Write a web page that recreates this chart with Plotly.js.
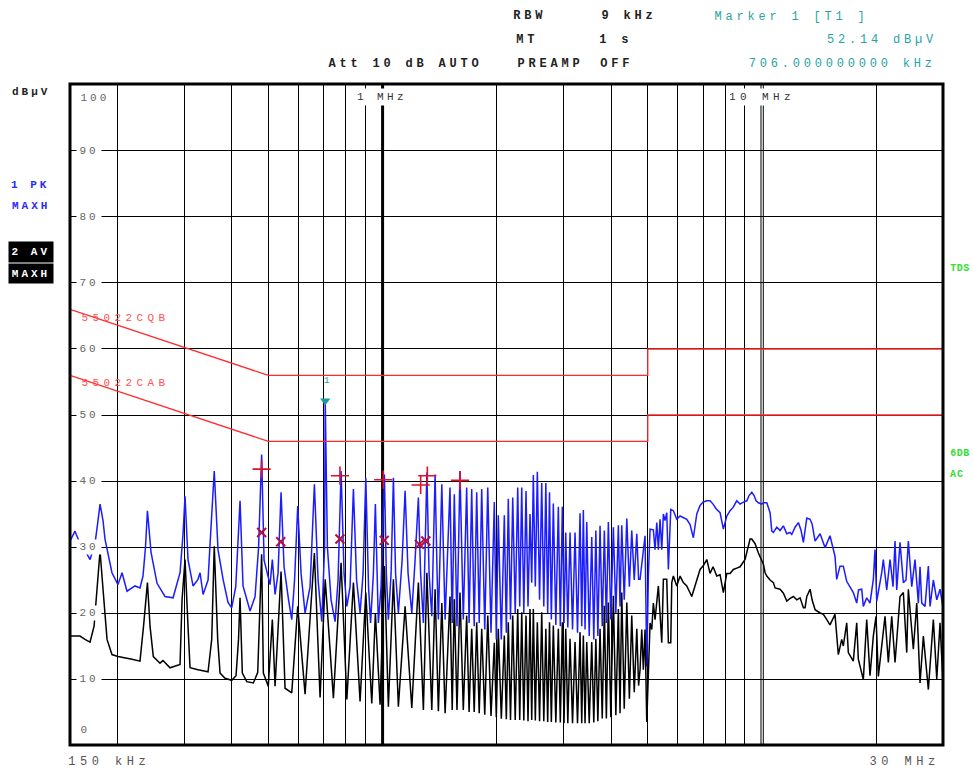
<!DOCTYPE html>
<html><head><meta charset="utf-8">
<script src="https://cdn.plot.ly/plotly-3.0.1.min.js"></script>
<style>body{margin:0;background:#fff}#chart{width:973px;height:769px}</style>
</head><body><div id="chart"></div>
<script>
// ---------- DATA (frequency in kHz, level in dBµV) ----------
const freqPK = [150,154.6,159.4,164.3,169.4,174.6,177.8,180,183.3,185.5,193.5,200.7,205.7,212,222.5,229.4,233.6,237.2,240,245.3,254.4,267,280.4,292.5,297.9,301.5,307,316.5,326.2,330.3,336.4,346.7,353,360,368.3,379.8,391.4,400.3,410.2,415.9,421,428.7,438.6,447.4,461.2,471.2,480,
487.1,505.1,512.2,520.7,530.2,540,549.9,565.2,576.2,586.1,597.5,609.7,624.7,644,661.1,676,691.4,703.3,706,715.4,731.5,749.5,763.2,777.3,791.6,805,821,837.7,854,872.3,888.4,903.1,918.2,929.7,945.7,957.2,974.7,990.9,1011,1023,1035.7,1053,1067.9,1082,1100.6,1125.7,1146.4,1167.4,1194,1218,1242.7,1259.5,1281,1308.3,1326,1348,1375.3,1392,1403,1432.5,1448.7,1461.5,1505.5,
1525.8,1545.4,1570.8,1599.6,1632,1665.8,1690.6,1717.5,1743.7,1770.5,1797.4,1825,1859,1893.3,1930.9,1970,1994.2,2018.2,2055.7,2093.4,2119.1,2144.6,2173.5,2203,2236.6,2270.8,2298.6,2326.7,2356.4,2388.1,2417.2,2446.8,2472.2,2496.5,2526.8,2557.9,2592.6,2627,2660,2693.3,2723.6,2754.1,2784.7,2818.7,2861.8,2905.7,2940.8,2976.9,3007.7,3039.1,3077.6,3119.3,3167,3215.4,3264.4,3314.5,3349,3381.8,3416.6,3452.4,3504.8,3558.6,3603.4,3648.4,3693.2,3742.4,3792.9,3841.6,3888.7,3936.3,3996,4057.3,4119.4,4182.6,4225.5,4269.4,4334.5,4402.5,4471.4,4536.7,4605.8,4678,4729,4771,4867.9,4918,4969.5,5018,5069.6,
5172.5,5225.7,5280.5,5332.2,5386.9,5443,5496.3,5552.8,5611,5666,5748.4,5840,5962,6082.3,6335,6463,6594,6732,6867.6,6994,7153,7297,7431,7568,7675,7754,7911,8077,8239,8391,8582,8755,8933,9119,9246,9400,9532,9648,9785,9988,10086,10296,10504,10613,10717,10941,11161,11388,11625,11860,11983,12225,12474,12679,12858,13126,13391,13554,13803,14229,14667,15110,15575,15739,16056,16382,16724,17061,17407,17771,17967,18318,18497,18883,19264,19655,19857,20065,20470,20683,20886,21322,21752,22152,22422,22657,23113,23582,23970,24310,24815,25316,25832,26097,26368,26901,27449,27731,28294,28885,29466,30000];
const valPK = [30.9,32.4,30.5,29.5,28.1,30.5,34,36.5,34,31.2,26.1,24.3,26.1,23.3,24.1,23.8,25.6,30,35.5,29.2,24.5,22.5,22.3,26.1,32,37.7,28.1,24.1,25.1,26.1,22.8,25,33,41.5,29.6,25.1,21.6,20.8,24,30,37,24.1,22,20.3,22.5,30,44,
28,24.3,28.1,22.8,26,38.3,27,22,19,25,36.2,26,20,24,39.5,25,18.7,30,52.14,30,22,18.7,25,41.5,26,21,24,38.8,25,20,26,40.5,24,18.5,26,36.5,18.5,24,41,26,19,26,40.5,26,20,28,38.5,26,20,28,37.5,26,18.5,41.3,26,19.5,41,26,19,39.5,25,19,39,
18.5,38,18,41.5,19,39,18.5,38.8,18,38.3,18.5,38.8,17.5,39,17,36.8,16,34.8,16,34.8,17,37.3,19,37.5,20,39,21,39,20,38.5,21,35,24.6,40.9,24,41.4,22,39.7,21,39.7,20,38.3,19,36.6,18.2,36.1,18,36.1,18.5,32.2,17.8,32.2,17.5,32.2,17,35.1,18,35.6,17.5,33.8,16.5,31.5,16,32.5,16.5,33.2,18,32.5,18.5,33.8,19,33,20,33.3,21,33.3,22,34.3,24,32.5,25,32,25.1,25.1,29.1,31.7,11.9,25.6,32.7,
32.6,29.6,33.7,29.6,34.2,29.6,35,34,35.2,26.6,35.7,35.5,34.2,34.7,34.2,33.4,31.4,35,36.3,36.8,37,37,36.5,35.8,35.5,35.2,32.7,34.7,35.5,36,37,36.5,36.8,37,37.8,38.3,37.8,37,36.7,36.5,36.7,36.7,35.2,32.4,32.2,33,32.5,33.2,32,32.2,31.9,33,33.7,32.5,30.7,34.4,34.2,33.5,30.9,32,29.9,31.7,28.6,25.1,27.1,27.1,24.8,24,23.1,21.5,23.5,23.6,21,22.3,21.5,25.1,29.6,21.8,24.5,26.1,28.1,23.5,28.1,24,30.9,23.5,30.7,24.6,25,30.9,24,28.1,21.5,27,21.5,21,27.1,21,25,22,23.6,20.8];

const freqAV = [150,159.4,164.3,169.4,173.6,176.8,180,183.3,187.8,193.5,200.7,218.5,229.4,234.4,240,243.8,248.7,259,263.8,275.3,292.5,296.1,301.5,307,310.8,326.2,346.7,354.5,360,367.6,372.9,384.4,400.3,410.9,417.1,421,426.9,438.6,456.5,468.7,473.6,480,
485,499.7,512.2,520.7,540,553.2,576.2,597.5,624.7,661.1,684.3,706,741.9,777.3,805,837.7,872.3,903.1,936.5,957.2,984.9,1011,1035.7,1067.9,1100.6,1146.4,1194,1242.7,1281,1308.3,1348,1375.3,1403,1432.5,1461.5,1505.5,
1525.8,1545.4,1570.8,1599.6,1632,1665.8,1690.6,1717.5,1743.7,1770.5,1797.4,1825,1859,1893.3,1930.9,1970,1994.2,2018.2,2055.7,2093.4,2119.1,2144.6,2173.5,2203,2236.6,2270.8,2298.6,2326.7,2356.4,2388.1,2417.2,2446.8,2472.2,2496.5,2526.8,2557.9,2592.6,2627,2660,2693.3,2723.6,2754.1,2784.7,2818.7,2861.8,2905.7,2940.8,2976.9,3007.7,3039.1,3077.6,3119.3,3167,3215.4,3264.4,3314.5,3349,3381.8,3416.6,3452.4,3504.8,3558.6,3603.4,3648.4,3693.2,3742.4,3792.9,3841.6,3888.7,3936.3,3996,4057.3,4119.4,4182.6,4225.5,4269.4,4334.5,4402.5,4471.4,4536.7,4605.8,4678,4729,4771,4820.6,4867.9,4918,4969.5,
5069.6,5122,5172.5,5225.7,5332.2,5386.9,5443,5496.3,5611,5666,5748.4,5783.5,5840,5962,6082.3,6205.8,6335,6530,6662,6867.6,7007,7153,7297,7431,7601,7754,7911,8077,8239,8406,8582,8755,9025,9119,9209,9303,9400,9590,9785,9885,9988,10086,10190,10296,10504,10717,10827,11161,11388,11625,11860,12101,12353,12602,12858,12990,13126,13391,13554,13803,14229,14518,14821,15110,15575,15893,16223,16382,16724,16888,17407,17771,17945,18129,18497,18883,19264,19655,19978,20262,20683,21100,21530,21978,22422,23113,23582,24074,24310,25058,25582,26097,26627,27449,28294,28885,29466,30000];
const valAV = [16.5,16.5,16,15.6,18,24,29.4,23.6,16,13.7,13.4,13,12.7,18,24.6,18,13.4,12.4,12.8,11.7,12.2,22,28.1,18,11.7,11.4,11.1,16,30.1,16,10.9,10.1,9.8,10.5,16,22.3,10.9,9.6,9.4,11,18,28.9,
10.9,8.9,19,8.9,26.3,8.6,7.9,21,7.7,29.1,7.2,25.1,7.1,27.6,6.9,24.6,6.6,23.1,6.3,20,6.1,27.1,5.8,25.1,5.8,21,5.6,24.6,5.3,26.1,5.3,23.6,5.1,21.5,4.8,22.5,
5.3,22.1,5.3,23.1,5.3,19.6,5,17.6,5,18.6,4.8,17.6,4.6,19.6,4.4,15.5,4.2,17.6,4,16.6,3.9,18.6,3.8,19.6,3.8,20.6,3.8,20.1,3.7,19.6,3.6,20.6,3.8,20.6,3.7,18.6,3.6,20.1,3.6,17.6,3.5,18.6,3.5,18.1,3.4,17.6,3.4,18.6,3.3,17.6,3.3,16.1,3.3,15.6,3.3,17.1,3.3,16.6,3.3,15.6,3.3,15.6,3.4,16.1,3.6,17.6,4,21.1,4,21.6,4.2,22.6,4.5,20.6,4.8,23.1,5.5,21.6,7,19.6,8,17.6,9,11.4,17.5,11.4,17.5,3.5,
18.5,17.5,21.5,19,24.1,19,15.5,25.1,25.1,15.5,15.5,24.6,25.6,24.1,25.6,24.6,24.1,22.5,24.1,26.6,27.2,28.1,26,27,25.6,25.8,23.1,26,26,26.6,26.8,27,28.1,29.1,30.1,31.2,31.2,30.5,29.1,28.6,28.1,27.4,26.1,25.6,25,24.6,23.8,23.6,23,21.8,22.2,22.5,22,22.3,20.8,20.8,22.5,23.6,22,20.5,20,19.8,19,18.2,19.8,13.7,16,15,18.5,14,12.7,18.5,13,11.9,9.9,19,10.5,16.5,19.5,10.4,15.5,19.5,12.5,19.5,12.5,22.5,23.1,14,23.6,14.5,21.5,9.4,16.5,8.4,19,10,18.5,9.4];

// EN 55022 class B limits
const limFreq = [150, 500, 5000, 5000, 30000];
const limQP = [66, 56, 56, 60, 60];
const limAVg = [56, 46, 46, 50, 50];

// final measurement markers
const pkMarkFreq = [480, 772, 1004, 1260, 1312, 1600];
const pkMarkVal = [41.8, 40.8, 40.2, 39.4, 40.8, 40.1];
const avMarkFreq = [480, 539, 772, 1010, 1250, 1300];
const avMarkVal = [32.2, 30.8, 31.2, 31.0, 30.4, 30.9];
const mkFreq = [706];
const mkVal = [52.14];

const gridFreqs = [200,300,400,500,600,700,800,900,2000,3000,4000,5000,6000,7000,8000,9000,20000];
const yTicks = [90,80,70,60,50,40,30,20,10];

// ---------- LAYOUT ----------
const FMIN = 150, FMAX = 30000;
const PL=70, PR=943, PT=84, PB=745;
const ax = p => (p-PL)/(PR-PL);
const ay = p => (PB-p)/(PB-PT);
const fx = f => (Math.log10(f)-Math.log10(FMIN))/(Math.log10(FMAX)-Math.log10(FMIN));
const MONO = 'Liberation Mono, Courier New, monospace';
const anns = [], spacing = [];
function ann(text, cx, cy, o) {
  o = o || {};
  const a = {text:text, xref:'paper', yref:'paper', x:ax(cx), y:ay(cy), xanchor:o.xa||'center', yanchor:'middle',
    showarrow:false, font:{family:MONO, size:o.size||12, color:o.color||'#222', weight:o.bold?'bold':'normal'}};
  if (o.bg) { a.bgcolor = o.bg; }
  if (o.w) { a.width = o.w; a.height = o.h || 14; }
  anns.push(a); spacing.push(o.ls===undefined?3.8:o.ls);
}
const TEAL='#2aa3a3';
ann('RBW', 530, 16, {bold:true});
ann('9 kHz', 629, 16, {bold:true});
ann('Marker 1 [T1 ]', 791, 17, {color:TEAL});
ann('MT', 527, 40, {bold:true});
ann('1 s', 616, 40, {bold:true});
ann('52.14 dBµV', 882, 40, {color:TEAL});
ann('Att 10 dB AUTO', 405, 64, {bold:true});
ann('PREAMP', 550, 64, {bold:true});
ann('OFF', 617, 64, {bold:true});
ann('706.000000000 kHz', 842, 64, {color:TEAL});
ann('dBµV', 31, 92, {bold:true, size:11, ls:3});
ann('1 PK', 30, 185, {bold:true, size:11, color:'#2a2aff', ls:3});
ann('MAXH', 31, 206, {bold:true, size:11, color:'#2a2aff', ls:3});
ann('2 AV', 31, 252, {bold:true, size:11, color:'#fff', bg:'#000', w:42, h:18, ls:3});
ann('MAXH', 31, 273, {bold:true, size:11, color:'#fff', bg:'#000', w:42, h:17, ls:3});
ann('TDS', 949, 268, {bold:true, size:10, color:'#33dd33', xa:'left', ls:0.5});
ann('6DB', 949, 453, {bold:true, size:10, color:'#33dd33', xa:'left', ls:0.5});
ann('AC', 949, 474, {bold:true, size:10, color:'#33dd33', xa:'left', ls:1});
ann('150 kHz', 109, 762, {color:'#555', ls:4.5});
ann('30 MHz', 904, 762, {color:'#555', ls:4.5});
ann('100', 95, 98, {size:11, color:'#666', ls:3});
ann('0', 85, 730, {size:11, color:'#666', ls:3});
ann('1 MHz', 382, 97, {size:11, color:'#333', bg:'#fff', w:52, h:14, ls:3.4});
ann('10 MHz', 762, 97, {size:11, color:'#333', bg:'#fff', w:64, h:14, ls:4.4});
ann('55022CQB', 125, 318, {size:11, color:'#ff5050', ls:4.4});
ann('55022CAB', 125, 383, {size:11, color:'#ff5050', ls:4.4});
ann('1', 326, 381, {size:9, color:'#1b9a9a', ls:0});
yTicks.forEach(v => {
  anns.push({text:String(v), xref:'paper', yref:'y', x:ax(89), y:v, xanchor:'center', yanchor:'middle', showarrow:false,
    bgcolor:'#fff', width:22, height:12, font:{family:MONO, size:11, color:'#666'}});
  spacing.push(3);
});

const vline = (p, w) => ({type:'line', xref:'paper', yref:'paper', x0:p, x1:p, y0:0, y1:1, line:{color:'#000', width:w}, layer:'below'});
const shapes = [
  vline(fx(1000), 3),
  vline(fx(9940), 1),
  vline(fx(10080), 1),
  {type:'rect', xref:'paper', yref:'paper', x0:0, x1:1, y0:0, y1:1, line:{color:'#000', width:3}, layer:'above'}
];

const traces = [
  {x:freqPK, y:valPK, type:'scatter', mode:'lines', line:{color:'#1c1cff', width:1.5}, hoverinfo:'skip'},
  {x:freqAV, y:valAV, type:'scatter', mode:'lines', line:{color:'#000', width:1.5}, hoverinfo:'skip'},
  {x:limFreq, y:limQP, type:'scatter', mode:'lines', line:{color:'#ff2a2a', width:1.3}, hoverinfo:'skip'},
  {x:limFreq, y:limAVg, type:'scatter', mode:'lines', line:{color:'#ff2a2a', width:1.3}, hoverinfo:'skip'},
  {x:pkMarkFreq, y:pkMarkVal, type:'scatter', mode:'markers', marker:{symbol:'cross-thin', size:13, line:{color:'#e0102a', width:1.6}}, hoverinfo:'skip'},
  {x:avMarkFreq, y:avMarkVal, type:'scatter', mode:'markers', marker:{symbol:'x-thin', size:9, line:{color:'#b0103a', width:2}}, hoverinfo:'skip'},
  {x:mkFreq, y:mkVal, type:'scatter', mode:'markers', marker:{symbol:'triangle-down', size:9, color:'#1b9a9a'}, hoverinfo:'skip', cliponaxis:false},
];

const layout = {
  width:973, height:769, showlegend:false,
  margin:{l:PL, r:973-PR, t:PT, b:769-PB, pad:0},
  paper_bgcolor:'#fff', plot_bgcolor:'#fff',
  xaxis:{type:'log', range:[Math.log10(FMIN), Math.log10(FMAX)], tickvals:gridFreqs, showticklabels:false, ticks:'',
    showgrid:true, gridcolor:'#000', gridwidth:1, zeroline:false, showline:false, fixedrange:true},
  yaxis:{range:[0,100.15], dtick:10, tick0:0, showticklabels:false, ticks:'', showgrid:true, gridcolor:'#000', gridwidth:1,
    zeroline:false, showline:false, fixedrange:true},
  shapes:shapes, annotations:anns
};

Plotly.newPlot('chart', traces, layout, {staticPlot:true, displayModeBar:false}).then(gd => {
  spacing.forEach((ls, i) => {
    const t = gd.querySelector('g.annotation[data-index="' + i + '"] text.annotation-text');
    if (t) t.style.letterSpacing = ls + 'px';
  });
});
</script></body></html>
